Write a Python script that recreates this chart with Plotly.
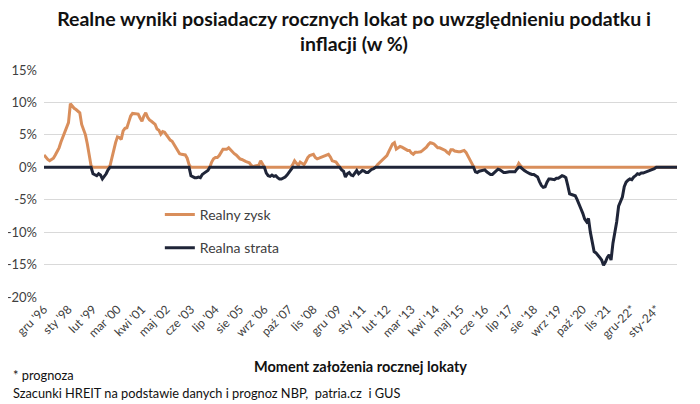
import plotly.graph_objects as go

# Miesiace od grudnia 1996 do grudnia 2024
miesiace = ['sty', 'lut', 'mar', 'kwi', 'maj', 'cze', 'lip', 'sie', 'wrz', 'paź', 'lis', 'gru']
kategorie = ["gru '96"] + [m + " '" + str(r)[2:] for r in range(1997, 2025) for m in miesiace]

# Realny wynik lokaty (w %)
wynik = [
    1.9,
    1.5, 1.2, 1.0, 1.2, 1.4, 1.9, 2.5, 3.0, 3.9, 4.6, 5.4, 6.1,
    6.9, 9.8, 9.4, 9.1, 8.9, 8.7, 8.4, 6.6, 5.8, 5.0, 3.6, 1.8,
    0.2, -1.0, -1.2, -1.3, -1.0, -1.2, -1.8, -1.4, -1.0, -0.4, 0.2, 1.5,
    2.9, 3.8, 4.7, 4.6, 4.3, 5.6, 6.0, 6.1, 7.0, 7.9, 8.3, 8.3,
    8.3, 8.2, 7.6, 7.1, 7.9, 8.4, 7.7, 7.3, 7.1, 6.8, 6.6, 5.9,
    5.7, 5.1, 5.5, 5.4, 5.0, 4.6, 4.2, 4.0, 3.5, 3.0, 2.4, 2.1,
    2.0, 1.9, 1.9, 1.4, 0.4, -1.3, -1.5, -1.6, -1.6, -1.5, -1.6, -1.1,
    -0.9, -0.7, -0.5, 0.0, 0.8, 1.3, 1.5, 1.5, 1.8, 2.4, 2.8, 2.8,
    2.8, 3.0, 2.7, 2.3, 2.1, 1.9, 1.6, 1.3, 1.2, 1.0, 0.9, 0.8,
    0.7, 0.3, 0.1, 0.2, 0.3, 0.3, 1.0, 0.5, 0.0, -0.9, -1.3, -1.4,
    -1.2, -1.4, -1.3, -1.6, -1.8, -1.8, -1.7, -1.5, -1.2, -0.8, -0.5, 0.4,
    1.0, 0.6, 0.3, 0.8, 0.6, 0.4, 0.9, 1.5, 1.8, 1.9, 2.0, 1.5,
    1.3, 1.4, 1.5, 1.6, 1.7, 1.8, 2.0, 1.6, 1.0, 0.9, 0.8, 0.4,
    0.0, -0.4, -0.6, -1.5, -1.0, -0.8, -1.2, -1.3, -0.8, -0.5, -1.0, -0.8,
    -0.5, -0.6, -0.8, -0.8, -0.5, -0.3, -0.2, 0.0, 0.4, 0.7, 1.0, 1.3,
    1.6, 1.8, 2.4, 3.0, 3.6, 3.8, 2.8, 3.0, 3.2, 3.1, 2.9, 2.7,
    2.6, 2.6, 2.2, 2.0, 2.3, 2.3, 2.3, 2.4, 2.6, 2.8, 3.1, 3.5,
    3.8, 3.7, 3.6, 3.3, 3.0, 3.0, 2.9, 2.8, 2.6, 2.3, 2.1, 2.7,
    2.7, 2.5, 2.4, 2.4, 2.4, 2.5, 2.6, 2.3, 1.8, 1.3, 0.8, 0.1,
    -0.7, -0.8, -0.6, -0.5, -0.5, -0.4, -0.7, -0.9, -1.1, -1.1, -0.8, -0.5,
    -0.3, -0.4, -0.6, -0.8, -0.8, -0.7, -0.7, -0.7, -0.7, -0.7, -0.3, 0.6,
    0.2, -0.3, -0.5, -0.7, -0.9, -1.0, -1.1, -1.1, -1.3, -1.5, -2.2, -2.8,
    -3.1, -3.0, -2.3, -1.8, -1.8, -1.8, -1.9, -1.7, -1.7, -1.5, -1.3, -1.4,
    -1.6, -2.8, -4.1, -4.2, -4.3, -4.4, -5.0, -5.6, -6.4, -7.1, -8.0, -8.4,
    -7.9, -10.0, -11.8, -13.0, -13.2, -13.5, -13.9, -14.3, -15.1, -14.6, -13.9, -13.5,
    -14.3, -11.7, -10.0, -8.4, -6.0, -5.2, -4.6, -3.0, -2.3, -2.0, -1.8, -1.9,
    -1.5, -1.3, -1.0, -1.1, -0.9, -0.9, -0.8, -0.7, -0.6, -0.4, -0.3, -0.2,
    0.0, 0.1, -0.1, 0.1, 0.0, 0.1, -0.1, 0.0, 0.1, 0.0, -0.1, 0.0,
]

zysk = [max(v, 0) for v in wynik]
strata = [min(v, 0) for v in wynik]

etykiety_x = ["gru '96", "sty '98", "lut '99", "mar '00", "kwi '01", "maj '02", "cze '03",
              "lip '04", "sie '05", "wrz '06", "paź '07", "lis '08", "gru '09", "sty '11",
              "lut '12", "mar '13", "kwi '14", "maj '15", "cze '16", "lip '17", "sie '18",
              "wrz '19", "paź '20", "lis '21", "gru-22*", "sty-24*"]
pozycje_x = [kategorie[i] for i in range(0, len(kategorie), 13)]

wartosci_y = [-20, -15, -10, -5, 0, 5, 10, 15]
etykiety_y = ['-20%', '-15%', '-10%', '-5%', '0%', '5%', '10%', '15%']

font = 'Lato, Noto Sans, sans-serif'

fig = go.Figure()
fig.add_trace(go.Scatter(x=kategorie, y=zysk, mode='lines', name='Realny zysk',
                         legendgroup='a', line=dict(color='#D98E5B', width=3)))
fig.add_trace(go.Scatter(x=kategorie, y=strata, mode='lines', name='Realna strata',
                         legendgroup='b', line=dict(color='#1F2538', width=3)))

# strona ma 8px marginesu body, wiec figura jest mniejsza o 8px
fig.update_layout(
    width=692, height=396,
    margin=dict(l=36, r=23, t=62, b=107),
    paper_bgcolor='white', plot_bgcolor='white',
    font=dict(family=font, color='#404040'),
    title=dict(text='<b>Realne wyniki posiadaczy rocznych lokat po uwzględnieniu podatku i<br>inflacji (w %)</b>',
               x=0.5, xref='container', xanchor='center', y=0.955, yref='container', yanchor='top',
               font=dict(size=19.5, color='#111111', family=font)),
    legend=dict(x=0.183, y=0.432, xanchor='left', yanchor='top', bgcolor='rgba(0,0,0,0)',
                font=dict(size=14, color='#404040'), tracegroupgap=12),
    xaxis=dict(type='category', range=[0, len(kategorie) - 1], tickmode='array',
               tickvals=pozycje_x, ticktext=etykiety_x, tickangle=-45, automargin=False,
               tickfont=dict(size=12, color='#404040'), showgrid=False, zeroline=False,
               showline=False, ticks='', ticklabelstandoff=2,
               title=dict(text='<b>Moment założenia rocznej lokaty</b>', standoff=21,
                          font=dict(size=14.5, color='#111111'))),
    yaxis=dict(range=[-20, 15], tickmode='array', tickvals=wartosci_y, ticktext=etykiety_y,
               automargin=False,
               tickfont=dict(size=13, color='#404040'), showgrid=True, gridcolor='#D9D9D9',
               gridwidth=1, zeroline=False, showline=False, ticks='', ticklabelstandoff=6),
    annotations=[
        dict(text='* prognoza', xref='paper', yref='paper', x=-0.052, y=-0.342,
             xanchor='left', yanchor='middle', showarrow=False,
             font=dict(size=12.8, color='#111111')),
        dict(text='Szacunki HREIT na podstawie danych i prognoz NBP,  patria.cz  i GUS',
             xref='paper', yref='paper', x=-0.052, y=-0.424, xanchor='left', yanchor='middle',
             showarrow=False, font=dict(size=12.8, color='#111111')),
    ],
)

fig.write_html('out.html')
